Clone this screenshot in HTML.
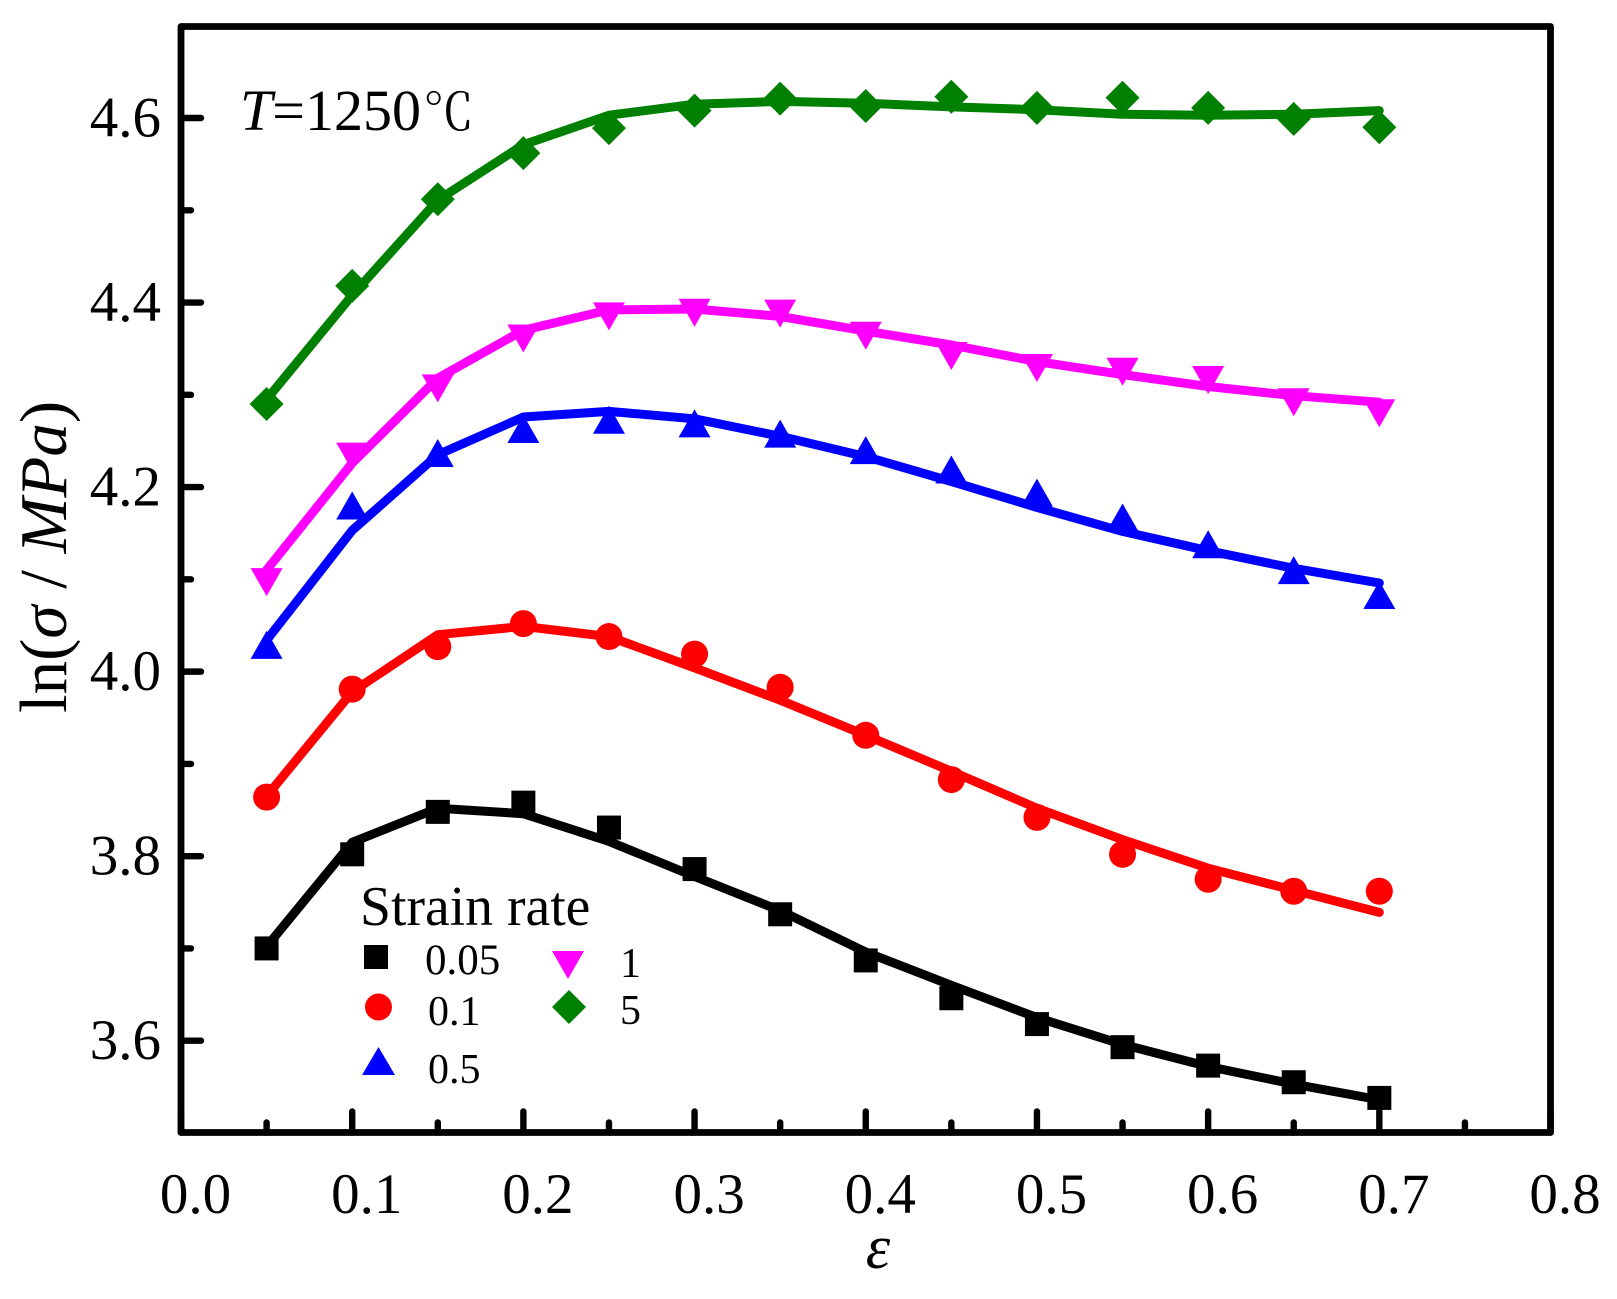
<!DOCTYPE html>
<html>
<head>
<meta charset="utf-8">
<style>
html,body{margin:0;padding:0;background:#fff;}
svg{display:block;}
text{font-family:"Liberation Serif","Noto Serif CJK SC",serif;fill:#000;}
</style>
</head>
<body>
<svg id="chart" xmlns="http://www.w3.org/2000/svg" width="1617" height="1299" viewBox="0 0 1617 1299">
  <rect x="0" y="0" width="1617" height="1299" fill="#ffffff"/>
  <g id="lines"></g>
  <g id="markers"></g>
  <g id="ticks"></g>
  <rect x="181" y="26.5" width="1369.5" height="1106" fill="none" stroke="#000" stroke-width="6.8" stroke-linejoin="round"/>
  <g id="tick-labels"></g>
  <text transform="translate(66,713) rotate(-90)" font-size="67">ln(<tspan font-style="italic">σ</tspan> / <tspan font-style="italic">MPa</tspan>)</text>
  <text x="878" y="1268" font-size="62" font-style="italic" text-anchor="middle">ε</text>
  <text x="240" y="130" font-size="58"><tspan font-style="italic">T</tspan>=1250<tspan font-size="51" dx="2" dy="0">℃</tspan></text>
  <g>
    <text x="360" y="925" font-size="55.7">Strain rate</text>
    <rect x="364" y="945" width="24" height="24" fill="#000"/>
    <text x="425" y="974" font-size="43">0.05</text>
    <circle cx="378.5" cy="1007" r="13.5" fill="#ff0000"/>
    <text x="428" y="1025" font-size="42">0.1</text>
    <polygon points="362,1075 395,1075 378.5,1047" fill="#0000ff"/>
    <text x="428" y="1083" font-size="42">0.5</text>
    <polygon points="552,951 584,951 568,979" fill="#ff00ff"/>
    <text x="620" y="977" font-size="42">1</text>
    <polygon points="552,1007 569,990 586,1007 569,1024" fill="#008000"/>
    <text x="620" y="1024" font-size="42">5</text>
  </g>
</svg>
<script>
const strain = [0.05,0.10,0.15,0.20,0.25,0.30,0.35,0.40,0.45,0.50,0.55,0.60,0.65,0.70];
const rateNames = ['0.05','0.1','0.5','1','5'];

const points005 = [3.700,3.802,3.848,3.858,3.831,3.786,3.737,3.687,3.646,3.618,3.593,3.573,3.555,3.538];
const points01  = [3.864,3.981,4.027,4.052,4.038,4.019,3.983,3.931,3.883,3.842,3.802,3.775,3.762,3.762];
const points05  = [4.029,4.180,4.237,4.263,4.273,4.269,4.258,4.240,4.219,4.194,4.167,4.138,4.110,4.083];
const points1   = [4.097,4.233,4.307,4.361,4.385,4.389,4.388,4.364,4.342,4.329,4.325,4.316,4.292,4.280];
const points5   = [4.290,4.418,4.512,4.562,4.589,4.608,4.621,4.613,4.623,4.611,4.622,4.611,4.599,4.590];

const fit005 = [3.702,3.815,3.852,3.846,3.816,3.778,3.741,3.696,3.660,3.625,3.596,3.572,3.553,3.536];
const fit01  = [3.865,3.978,4.040,4.049,4.038,4.004,3.969,3.931,3.892,3.852,3.818,3.787,3.763,3.739];
const fit05  = [4.034,4.153,4.235,4.276,4.282,4.274,4.255,4.233,4.206,4.178,4.152,4.131,4.112,4.096];
const fit1   = [4.110,4.226,4.318,4.370,4.392,4.393,4.385,4.369,4.354,4.336,4.322,4.309,4.299,4.292];
const fit5   = [4.295,4.408,4.511,4.571,4.603,4.615,4.618,4.616,4.612,4.609,4.604,4.603,4.604,4.608];

const xMajorTicks = [0.0,0.1,0.2,0.3,0.4,0.5,0.6,0.7,0.8];
const xMinorTicks = [0.05,0.15,0.25,0.35,0.45,0.55,0.65,0.75];
const yMajorTicks = [3.6,3.8,4.0,4.2,4.4,4.6];
const yMinorTicks = [3.7,3.9,4.1,4.3,4.5];
const xTickLabels = ['0.0','0.1','0.2','0.3','0.4','0.5','0.6','0.7','0.8'];
const yTickLabels = ['3.6','3.8','4.0','4.2','4.4','4.6'];

const NS = 'http://www.w3.org/2000/svg';
function xScale(v){ return 181 + v * 1711.9; }
function yScale(v){ return 118 + (4.6 - v) * 922.7; }

function make(tag, attrs, parent){
  const el = document.createElementNS(NS, tag);
  for (const k in attrs) el.setAttribute(k, attrs[k]);
  parent.appendChild(el);
  return el;
}

function drawMarker(kind, cx, cy, color, parent){
  let el;
  if (kind === 'square') {
    el = make('rect', {x:cx-12, y:cy-12, width:24, height:24, fill:color}, parent);
  } else if (kind === 'circle') {
    el = make('circle', {cx:cx, cy:cy, r:13.5, fill:color}, parent);
  } else if (kind === 'up') {
    el = make('polygon', {points:(cx-16)+','+(cy+14)+' '+(cx+16)+','+(cy+14)+' '+cx+','+(cy-14), fill:color}, parent);
  } else if (kind === 'down') {
    el = make('polygon', {points:(cx-16)+','+(cy-14)+' '+(cx+16)+','+(cy-14)+' '+cx+','+(cy+14), fill:color}, parent);
  } else {
    el = make('polygon', {points:(cx-17)+','+cy+' '+cx+','+(cy-17)+' '+(cx+17)+','+cy+' '+cx+','+(cy+17), fill:color}, parent);
  }
  return el;
}

const seriesPoints = [points005, points01, points05, points1, points5];
const seriesFits = [fit005, fit01, fit05, fit1, fit5];
const seriesColors = ['#000000','#ff0000','#0000ff','#ff00ff','#008000'];
const seriesKinds = ['square','circle','up','down','diamond'];

const linesG = document.getElementById('lines');
const markersG = document.getElementById('markers');
const ticksG = document.getElementById('ticks');
const labelsG = document.getElementById('tick-labels');

seriesFits.forEach(function(fit, s){
  const d = fit.map(function(v, i){ return xScale(strain[i]).toFixed(1) + ',' + yScale(v).toFixed(1); }).join(' ');
  const line = make('polyline', {points:d, fill:'none', stroke:seriesColors[s], 'stroke-width':9, 'stroke-linejoin':'round', 'stroke-linecap':'round'}, linesG);
  
  
});

seriesPoints.forEach(function(pts, s){
  pts.forEach(function(v, i){
    const m = drawMarker(seriesKinds[s], xScale(strain[i]), yScale(v), seriesColors[s], markersG);
    
    
  });
});

function xTick(v, len, name){
  const t = make('line', {x1:xScale(v), x2:xScale(v), y1:1132.5, y2:1132.5-len+3, stroke:'#000', 'stroke-width':6.4, 'stroke-linecap':'round'}, ticksG);
  
  
}
function yTick(v, len, name){
  const t = make('line', {x1:181, x2:181+len-3, y1:yScale(v), y2:yScale(v), stroke:'#000', 'stroke-width':6.4, 'stroke-linecap':'round'}, ticksG);
  
  
}
xMajorTicks.forEach(function(v){ xTick(v, 24, 'x-major-tick-' + v); });
xMinorTicks.forEach(function(v){ xTick(v, 13, 'x-minor-tick-' + v); });
yMajorTicks.forEach(function(v){ yTick(v, 23, 'y-major-tick-' + v); });
yMinorTicks.forEach(function(v){ yTick(v, 13, 'y-minor-tick-' + v); });

xTickLabels.forEach(function(lab, i){
  const t = make('text', {x:xScale(xMajorTicks[i]) + 14.5, y:1213, 'font-size':57, 'text-anchor':'middle'}, labelsG);
  t.textContent = lab;
  
  
});
yTickLabels.forEach(function(lab, i){
  const t = make('text', {x:161, y:yScale(yMajorTicks[i]) + 18.5, 'font-size':57, 'text-anchor':'end'}, labelsG);
  t.textContent = lab;
  
  
});
</script>
</body>
</html>
